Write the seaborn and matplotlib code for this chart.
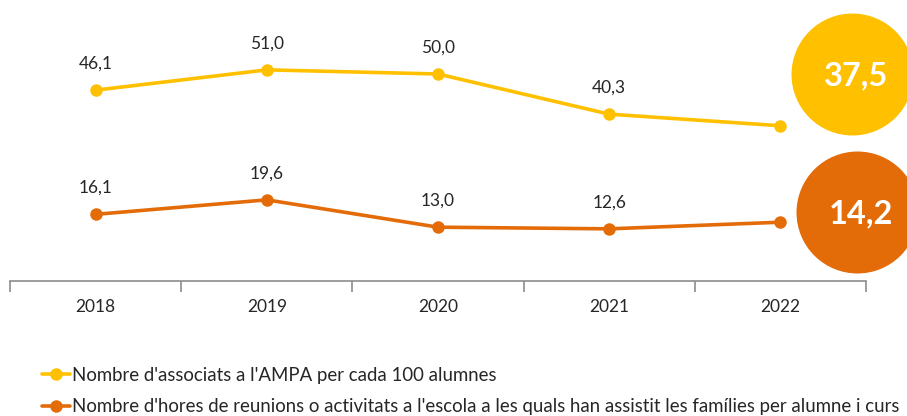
import matplotlib
matplotlib.use("Agg")
import matplotlib.pyplot as plt
import seaborn as sns
import pandas as pd

years = ["2018", "2019", "2020", "2021", "2022"]
associats = [46.1, 51.0, 50.0, 40.3, 37.5]
hores = [16.1, 19.6, 13.0, 12.6, 14.2]
label_a = "Nombre d'associats a l'AMPA per cada 100 alumnes"
label_h = "Nombre d'hores de reunions o activitats a l'escola a les quals han assistit les famílies per alumne i curs"
colors = {label_a: "#FFC000", label_h: "#E36C09"}

sns.set_theme(style="white")
plt.rcParams['font.family'] = ['Lato', 'DejaVu Sans']

df = pd.DataFrame({
    "year": years * 2,
    "value": associats + hores,
    "serie": [label_a] * len(years) + [label_h] * len(years),
})

fig = plt.figure(figsize=(9.07, 4.16), dpi=100)
ax = fig.add_axes([10/907, 1-281/416, 856/907, 281/416])
sns.lineplot(data=df, x="year", y="value", hue="serie", palette=colors,
             linewidth=2.6, marker="o", markersize=9, markeredgewidth=0, ax=ax, sort=False)
ax.set_xlim(-0.5, len(years) - 0.5)
ax.set_ylim(0, 281/4.14)

for s, vals in [(label_a, associats), (label_h, hores)]:
    for i, v in enumerate(vals[:-1]):
        ax.annotate(f"{v:.1f}".replace(".", ","), (i, v), xytext=(0, 19),
                    textcoords="offset points", ha="center", va="center",
                    fontsize=12.5, color="#262626")

# highlighted last values
big = [(4.42, 49.9, associats[-1], colors[label_a]), (4.45, 16.6, hores[-1], colors[label_h])]
for x, y, v, c in big:
    ax.scatter([x], [y], s=(2*61*0.72)**2, color=c, clip_on=False, zorder=5, linewidths=0)
    ax.text(x + 0.02, y - 0.4, f"{v:.1f}".replace(".", ","), ha="center", va="center",
            fontsize=23.5, fontweight="bold", color="white", zorder=6, clip_on=False)

for sp in ["top", "right", "left"]:
    ax.spines[sp].set_visible(False)
ax.spines["bottom"].set_color("#8c8c8c")
ax.spines["bottom"].set_linewidth(1.2)
ax.set_yticks([])
ax.set_xlabel("")
ax.set_ylabel("")
ax.set_xticks(range(len(years)))
ax.set_xticklabels(years)
ax.set_xticks([i - 0.5 for i in range(len(years) + 1)], minor=True)
ax.tick_params(axis="x", which="major", length=0, pad=13, labelsize=12.5, labelcolor="#262626")
ax.tick_params(axis="x", which="minor", length=8, width=1.2, color="#8c8c8c", bottom=True)

sns.move_legend(ax, "upper left", bbox_to_anchor=(42/907, 1-367/416),
                bbox_transform=fig.transFigure, frameon=False, title=None,
                fontsize=13.4, handlelength=1.5, handletextpad=0.1,
                labelspacing=0.76, borderpad=0, borderaxespad=0)
for t in ax.get_legend().get_texts():
    t.set_color("#262626")

fig.savefig("out.png", dpi=100)
